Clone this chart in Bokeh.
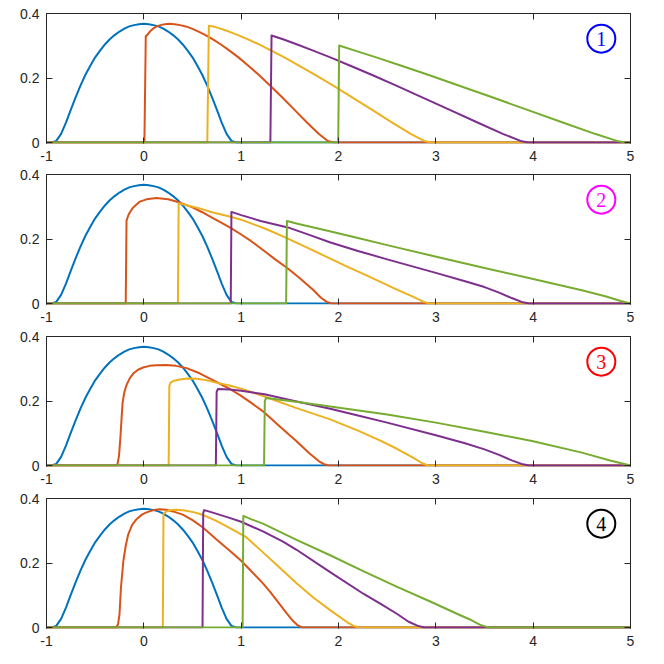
from bokeh.plotting import figure
from bokeh.layouts import column
from bokeh.models import LinearAxis, FixedTicker, Range1d
from bokeh.embed import file_html
from bokeh.resources import INLINE
from bokeh.core.properties import value

# ---------------- data ----------------
x_ticks = [-1, 0, 1, 2, 3, 4, 5]
x_tick_labels = ["-1", "0", "1", "2", "3", "4", "5"]
y_ticks = [0, 0.2, 0.4]
y_tick_labels = ["0", "0.2", "0.4"]

series_colors = ["#0072BD", "#D95319", "#EDB120", "#7E2F8E", "#77AC30"]

badge_labels = ["1", "2", "3", "4"]
badge_colors = ["#0000FF", "#FF00FF", "#FF0000", "#000000"]
badge_x = [4.7]
badge_y = [0.322]

blue_x = [-1.0, -0.95, -0.9, -0.85, -0.8, -0.75, -0.7, -0.65, -0.6, -0.55, -0.5, -0.45, -0.4, -0.35, -0.3,
          -0.25, -0.2, -0.15, -0.1, -0.05, 0.0, 0.05, 0.1, 0.15, 0.2, 0.25, 0.3, 0.35, 0.4, 0.45, 0.5, 0.55,
          0.6, 0.65, 0.7, 0.75, 0.8, 0.85, 0.9, 0.95, 1.0, 5.0]
blue_y = [0.0, 0.0, 0.005, 0.027, 0.062, 0.102, 0.141, 0.177, 0.210, 0.238, 0.264, 0.285, 0.304, 0.320, 0.333,
          0.344, 0.353, 0.360, 0.364, 0.367, 0.368, 0.367, 0.364, 0.360, 0.353, 0.344, 0.333, 0.320, 0.304, 0.285,
          0.264, 0.238, 0.210, 0.177, 0.141, 0.102, 0.062, 0.027, 0.005, 0.0, 0.0, 0.0]

# panel 1
p1_orange_x = [-1.0, 0.006, 0.02, 0.034, 0.062, 0.094, 0.132, 0.172, 0.216, 0.264, 0.316, 0.372, 0.431, 0.494, 0.562,
               0.634, 0.71, 0.792, 0.88, 0.972, 1.074, 1.18, 1.296, 1.418, 1.546, 1.676, 1.796, 1.89, 1.95, 5.0]
p1_orange_y = [0.0, 0.0, 0.330, 0.333, 0.344, 0.353, 0.360, 0.364, 0.367, 0.368, 0.367, 0.364, 0.360, 0.353, 0.344,
               0.333, 0.320, 0.304, 0.285, 0.264, 0.238, 0.210, 0.177, 0.141, 0.102, 0.062, 0.027, 0.005, 0.0, 0.0]
p1_yellow_x = [-1.0, 0.652, 0.668, 0.712, 0.788, 0.874, 0.968, 1.07, 1.184, 1.31, 1.444, 1.598, 1.76, 1.942, 2.136,
               2.342, 2.552, 2.742, 2.88, 2.95, 5.0]
p1_yellow_y = [0.0, 0.0, 0.362, 0.360, 0.353, 0.344, 0.333, 0.320, 0.304, 0.285, 0.264, 0.238, 0.210, 0.177, 0.141,
               0.102, 0.062, 0.027, 0.005, 0.0, 0.0]
p1_purple_x = [-1.0, 1.3, 1.312, 1.43, 1.576, 1.74, 1.916, 2.122, 2.34, 2.588, 2.854, 3.138, 3.428, 3.688, 3.87,
               3.95, 5.0]
p1_purple_y = [0.0, 0.0, 0.332, 0.320, 0.304, 0.285, 0.264, 0.238, 0.210, 0.177, 0.141, 0.102, 0.062, 0.027, 0.005,
               0.0, 0.0]
p1_green_x = [-1.0, 1.997, 2.007, 2.17, 2.388, 2.646, 2.92, 3.234, 3.572, 3.934, 4.304, 4.634, 4.86, 4.95, 5.0]
p1_green_y = [0.0, 0.0, 0.301, 0.285, 0.264, 0.238, 0.210, 0.177, 0.141, 0.102, 0.062, 0.027, 0.005, 0.0, 0.0]

# panel 2
p2_orange_x = [-1.0, -0.186, -0.178, -0.16, -0.143, -0.109, -0.041, 0.027, 0.13, 0.25, 0.37, 0.5, 0.6, 0.7, 0.8,
               0.9, 1.0, 1.1, 1.224, 1.35, 1.483, 1.6, 1.741, 1.82, 1.88, 1.93, 5.0]
p2_orange_y = [0.0, 0.0, 0.257, 0.273, 0.283, 0.298, 0.316, 0.323, 0.327, 0.323, 0.313, 0.298, 0.283, 0.266, 0.25,
               0.233, 0.214, 0.194, 0.166, 0.137, 0.108, 0.079, 0.042, 0.018, 0.005, 0.0, 0.0]
p2_yellow_x = [-1.0, 0.35, 0.358, 0.45, 0.573, 0.7, 0.88, 1.0, 1.256, 1.48, 1.7, 1.91, 2.1, 2.3, 2.43, 2.6, 2.776,
               2.87, 2.93, 5.0]
p2_yellow_y = [0.0, 0.0, 0.311, 0.304, 0.295, 0.283, 0.27, 0.26, 0.231, 0.201, 0.17, 0.14, 0.113, 0.086, 0.067,
               0.043, 0.02, 0.006, 0.0, 0.0]
p2_purple_x = [-1.0, 0.893, 0.9, 1.0, 1.2, 1.48, 1.7, 1.91, 2.2, 2.5, 3.0, 3.3, 3.5, 3.65, 3.78, 3.88, 3.96, 5.0]
p2_purple_y = [0.0, 0.0, 0.284, 0.274, 0.256, 0.236, 0.213, 0.19, 0.163, 0.137, 0.095, 0.069, 0.051, 0.034, 0.017,
               0.005, 0.0, 0.0]
p2_green_x = [-1.0, 1.462, 1.47, 1.6, 1.91, 2.2, 2.5, 2.95, 3.5, 4.0, 4.5, 4.75, 4.9, 5.0]
p2_green_y = [0.0, 0.0, 0.256, 0.246, 0.224, 0.203, 0.181, 0.149, 0.11, 0.076, 0.041, 0.022, 0.008, 0.0]

# panel 3
p3_orange_x = [-1.0, -0.285, -0.27, -0.255, -0.24, -0.228, -0.218, -0.2, -0.177, -0.145, -0.109, -0.06, -0.007,
               0.06, 0.13, 0.23, 0.33, 0.44, 0.573, 0.744, 0.88, 1.0, 1.1, 1.224, 1.4, 1.569, 1.7, 1.8, 1.86, 1.9,
               5.0]
p3_orange_y = [0.0, 0.0, 0.005, 0.03, 0.09, 0.15, 0.195, 0.228, 0.25, 0.27, 0.285, 0.297, 0.304, 0.309, 0.311,
               0.312, 0.309, 0.302, 0.286, 0.259, 0.238, 0.216, 0.195, 0.168, 0.12, 0.075, 0.038, 0.013, 0.003, 0.0,
               0.0]
p3_yellow_x = [-1.0, 0.255, 0.262, 0.275, 0.31, 0.37, 0.45, 0.55, 0.65, 0.744, 0.88, 1.0, 1.24, 1.569, 1.915, 2.2,
               2.43, 2.6, 2.77, 2.86, 2.92, 5.0]
p3_yellow_y = [0.0, 0.0, 0.248, 0.257, 0.263, 0.267, 0.27, 0.269, 0.264, 0.257, 0.248, 0.238, 0.214, 0.178, 0.143,
               0.108, 0.077, 0.052, 0.024, 0.007, 0.0, 0.0]
p3_purple_x = [-1.0, 0.74, 0.748, 0.76, 0.88, 1.0, 1.24, 1.5, 1.915, 2.2, 2.5, 3.0, 3.3, 3.5, 3.65, 3.78, 3.88,
               3.96, 5.0]
p3_purple_y = [0.0, 0.0, 0.228, 0.237, 0.236, 0.232, 0.221, 0.203, 0.176, 0.155, 0.133, 0.094, 0.069, 0.05, 0.033,
               0.016, 0.005, 0.0, 0.0]
p3_green_x = [-1.0, 1.235, 1.243, 1.255, 1.4, 1.6, 1.915, 2.5, 3.0, 3.5, 4.0, 4.5, 4.8, 5.0]
p3_green_y = [0.0, 0.0, 0.2, 0.209, 0.204, 0.196, 0.183, 0.158, 0.133, 0.105, 0.075, 0.04, 0.015, 0.0]

# panel 4
p4_orange_x = [-1.0, -0.285, -0.265, -0.25, -0.235, -0.21, -0.185, -0.16, -0.12, -0.075, -0.02, 0.027, 0.1, 0.164,
               0.23, 0.3, 0.4, 0.5, 0.607, 0.75, 0.88, 1.0, 1.1, 1.224, 1.3, 1.397, 1.47, 1.534, 1.58, 1.63, 5.0]
p4_orange_y = [0.0, 0.0, 0.01, 0.041, 0.124, 0.207, 0.255, 0.289, 0.318, 0.336, 0.35, 0.357, 0.364, 0.367, 0.365,
               0.36, 0.35, 0.333, 0.31, 0.272, 0.239, 0.207, 0.176, 0.137, 0.11, 0.072, 0.043, 0.02, 0.007, 0.0, 0.0]
p4_yellow_x = [-1.0, 0.195, 0.202, 0.23, 0.28, 0.334, 0.42, 0.52, 0.607, 0.75, 0.88, 1.052, 1.224, 1.397, 1.569,
               1.741, 1.914, 2.086, 2.15, 2.2, 2.24, 5.0]
p4_yellow_y = [0.0, 0.0, 0.352, 0.36, 0.364, 0.365, 0.363, 0.357, 0.349, 0.33, 0.309, 0.28, 0.233, 0.185, 0.137,
               0.093, 0.054, 0.017, 0.006, 0.001, 0.0, 0.0]
p4_purple_x = [-1.0, 0.603, 0.61, 0.62, 0.7, 0.88, 1.0, 1.224, 1.43, 1.569, 1.914, 2.259, 2.45, 2.603, 2.72, 2.81,
               2.88, 5.0]
p4_purple_y = [0.0, 0.0, 0.355, 0.364, 0.357, 0.34, 0.328, 0.298, 0.266, 0.241, 0.172, 0.104, 0.07, 0.042, 0.018,
               0.006, 0.0, 0.0]
p4_green_x = [-1.0, 1.015, 1.022, 1.1, 1.224, 1.569, 1.914, 2.259, 2.603, 2.948, 3.2, 3.35, 3.45, 3.52, 3.56, 5.0]
p4_green_y = [0.0, 0.0, 0.346, 0.336, 0.322, 0.272, 0.224, 0.174, 0.126, 0.08, 0.045, 0.025, 0.009, 0.002, 0.0, 0.0]

panels = [
    [(p1_orange_x, p1_orange_y), (p1_yellow_x, p1_yellow_y), (p1_purple_x, p1_purple_y), (p1_green_x, p1_green_y)],
    [(p2_orange_x, p2_orange_y), (p2_yellow_x, p2_yellow_y), (p2_purple_x, p2_purple_y), (p2_green_x, p2_green_y)],
    [(p3_orange_x, p3_orange_y), (p3_yellow_x, p3_yellow_y), (p3_purple_x, p3_purple_y), (p3_green_x, p3_green_y)],
    [(p4_orange_x, p4_orange_y), (p4_yellow_x, p4_yellow_y), (p4_purple_x, p4_purple_y), (p4_green_x, p4_green_y)],
]

# ---------------- styling ----------------
AX = "#262626"
FONT = "Liberation Sans"
top_borders = [13, 8, 9, 9]
bottom_borders = [23, 23, 23, 23]


def make_axis(ticks, labels, show_labels):
    ax = LinearAxis(ticker=FixedTicker(ticks=ticks, minor_ticks=[]))
    ax.axis_line_color = AX
    ax.axis_line_width = 1
    ax.major_tick_line_color = AX
    ax.major_tick_in = 6
    ax.major_tick_out = 0
    ax.minor_tick_line_color = None
    if show_labels:
        ax.major_label_overrides = {t: l for t, l in zip(ticks, labels)}
        ax.major_label_text_font = FONT
        ax.major_label_text_font_size = "14px"
        ax.major_label_text_color = AX
        ax.major_label_standoff = 7
    else:
        ax.major_label_overrides = {t: "" for t in ticks}
        ax.major_label_text_font_size = "0px"
        ax.major_label_standoff = 0
    return ax


figs = []
for i, curves in enumerate(panels):
    p = figure(frame_width=584, frame_height=130,
               x_range=Range1d(-1, 5), y_range=Range1d(-0.003, 0.4),
               x_axis_type=None, y_axis_type=None,
               output_backend="svg", toolbar_location=None,
               min_border_left=46, min_border_right=18,
               min_border_top=top_borders[i], min_border_bottom=bottom_borders[i])
    p.grid.visible = False
    p.outline_line_color = None
    p.background_fill_color = "white"
    p.border_fill_color = "white"

    xb = make_axis(x_ticks, x_tick_labels, True)
    xb.axis_line_color = None
    yl = make_axis(y_ticks, y_tick_labels, True)
    xt = make_axis(x_ticks, x_tick_labels, False)
    yr = make_axis(y_ticks, y_tick_labels, False)
    p.add_layout(xb, "below")
    p.add_layout(yl, "left")
    p.add_layout(xt, "above")
    p.add_layout(yr, "right")

    p.line(blue_x, blue_y, line_color=series_colors[0], line_width=2, line_join="round")
    for (cx, cy), col in zip(curves, series_colors[1:]):
        p.line(cx, cy, line_color=col, line_width=2, line_join="round")

    p.scatter(x=badge_x, y=badge_y, marker="circle", size=28, fill_color=None,
              line_color=badge_colors[i], line_width=2)
    p.text(x=badge_x, y=badge_y, text=[badge_labels[i]], text_align="center", text_baseline="middle",
           text_font=value("Liberation Serif"), text_font_size="20px", text_color=badge_colors[i])
    figs.append(p)

layout = column(*figs, spacing=0)

with open("out.html", "w") as f:
    f.write(file_html(layout, INLINE))
